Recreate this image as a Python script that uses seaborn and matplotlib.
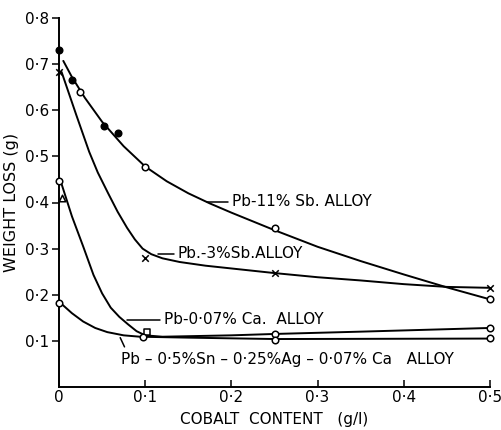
import matplotlib
matplotlib.use("Agg")
import matplotlib.pyplot as plt
import seaborn as sns

# hand-drawn curves
sb11_curve_x = [0.005, 0.015, 0.03, 0.05, 0.075, 0.1, 0.125, 0.15, 0.175, 0.2, 0.25, 0.3, 0.35, 0.4, 0.45, 0.5]
sb11_curve_y = [0.707, 0.672, 0.627, 0.575, 0.522, 0.478, 0.446, 0.42, 0.398, 0.378, 0.34, 0.304, 0.273, 0.244, 0.216, 0.19]

sb3_curve_x = [0.003, 0.02, 0.035, 0.045, 0.057, 0.068, 0.079, 0.088, 0.097, 0.107, 0.12, 0.14, 0.17, 0.2, 0.25, 0.3, 0.35, 0.4, 0.45, 0.5]
sb3_curve_y = [0.683, 0.59, 0.51, 0.465, 0.42, 0.38, 0.345, 0.32, 0.3, 0.288, 0.279, 0.271, 0.263, 0.257, 0.247, 0.238, 0.231, 0.223, 0.217, 0.215]

ca_curve_x = [0.003, 0.015, 0.028, 0.04, 0.05, 0.06, 0.07, 0.08, 0.09, 0.1, 0.12, 0.2, 0.25, 0.35, 0.5]
ca_curve_y = [0.44, 0.37, 0.305, 0.243, 0.203, 0.172, 0.152, 0.136, 0.121, 0.112, 0.109, 0.112, 0.115, 0.12, 0.128]

sn_curve_x = [0.003, 0.015, 0.028, 0.042, 0.056, 0.075, 0.094, 0.15, 0.25, 0.5]
sn_curve_y = [0.18, 0.16, 0.142, 0.128, 0.119, 0.112, 0.109, 0.107, 0.104, 0.105]

# measured points
sb11_open_x = [0.024, 0.1, 0.25, 0.5]
sb11_open_y = [0.64, 0.478, 0.345, 0.19]
sb11_fill_x = [0, 0.015, 0.052, 0.069]
sb11_fill_y = [0.73, 0.665, 0.565, 0.55]

sb3_x = [0, 0.1, 0.25, 0.5]
sb3_y = [0.683, 0.28, 0.248, 0.215]

ca_x = [0, 0.25, 0.5]
ca_y = [0.446, 0.115, 0.128]
ca_tri_x = [0.004]
ca_tri_y = [0.41]
ca_sq_x = [0.102]
ca_sq_y = [0.12]

sn_x = [0, 0.097, 0.25, 0.5]
sn_y = [0.183, 0.109, 0.102, 0.107]

x_ticks = [0, 0.1, 0.2, 0.3, 0.4, 0.5]
x_labels = ['0', '0·1', '0·2', '0·3', '0·4', '0·5']
y_ticks = [0.1, 0.2, 0.3, 0.4, 0.5, 0.6, 0.7, 0.8]
y_labels = ['0·1', '0·2', '0·3', '0·4', '0·5', '0·6', '0·7', '0·8']

sns.set_style('ticks', {'text.color': 'black', 'axes.labelcolor': 'black',
                        'xtick.color': 'black', 'ytick.color': 'black',
                        'axes.edgecolor': 'black'})
plt.rcParams['font.family'] = ['DejaVu Sans']

fig = plt.figure(figsize=(5.01, 4.30), dpi=100)
ax = fig.add_axes([59 / 501, 1 - 387 / 430, 431 / 501, 369 / 430])

for cx, cy in [(sb11_curve_x, sb11_curve_y), (sb3_curve_x, sb3_curve_y),
               (ca_curve_x, ca_curve_y), (sn_curve_x, sn_curve_y)]:
    sns.lineplot(x=cx, y=cy, color='black', lw=1.4, ax=ax, estimator=None, sort=False)

pts = dict(color='black', edgecolor='black', s=22, linewidth=1.1, zorder=5,
           clip_on=False, legend=False)
sns.scatterplot(x=sb11_fill_x, y=sb11_fill_y, marker='o', ax=ax, **pts)
sns.scatterplot(x=sb3_x, y=sb3_y, marker='x', ax=ax, **pts)
pts_open = dict(pts, color='white')
sns.scatterplot(x=sb11_open_x, y=sb11_open_y, marker='o', ax=ax, **pts_open)
sns.scatterplot(x=ca_x, y=ca_y, marker='o', ax=ax, **pts_open)
sns.scatterplot(x=ca_tri_x, y=ca_tri_y, marker='^', ax=ax, **pts_open)
sns.scatterplot(x=ca_sq_x, y=ca_sq_y, marker='s', ax=ax, **pts_open)
sns.scatterplot(x=sn_x, y=sn_y, marker='o', ax=ax, **pts_open)

# labels with leader lines
fs = 11
ax.plot([0.172, 0.196], [0.402, 0.402], color='black', lw=1.1)
ax.text(0.201, 0.402, 'Pb-11% Sb. ALLOY', fontsize=fs, va='center')
ax.plot([0.115, 0.133], [0.289, 0.289], color='black', lw=1.1)
ax.text(0.137, 0.289, 'Pb.-3%Sb.ALLOY', fontsize=fs, va='center')
ax.plot([0.079, 0.117], [0.146, 0.146], color='black', lw=1.1)
ax.text(0.122, 0.146, 'Pb-0·07% Ca.  ALLOY', fontsize=fs, va='center')
ax.plot([0.071, 0.076], [0.107, 0.087], color='black', lw=1.1)
ax.text(0.072, 0.059, 'Pb – 0·5%Sn – 0·25%Ag – 0·07% Ca   ALLOY', fontsize=fs, va='center')

ax.set_xlim(0, 0.5)
ax.set_ylim(0, 0.8)
ax.set_xticks(x_ticks)
ax.set_xticklabels(x_labels, fontsize=11)
ax.set_yticks(y_ticks)
ax.set_yticklabels(y_labels, fontsize=11)
ax.tick_params(axis='x', direction='in', length=5, width=1.1, pad=2)
ax.tick_params(axis='y', direction='out', length=5, width=1.1, pad=2)
for s in ['left', 'bottom']:
    ax.spines[s].set_linewidth(1.4)
sns.despine(ax=ax)

ax.set_xlabel('COBALT  CONTENT   (g/l)', fontsize=11, labelpad=5)
ax.set_ylabel('WEIGHT LOSS (g)', fontsize=11.5, labelpad=4)

fig.savefig('out.png', dpi=100)
